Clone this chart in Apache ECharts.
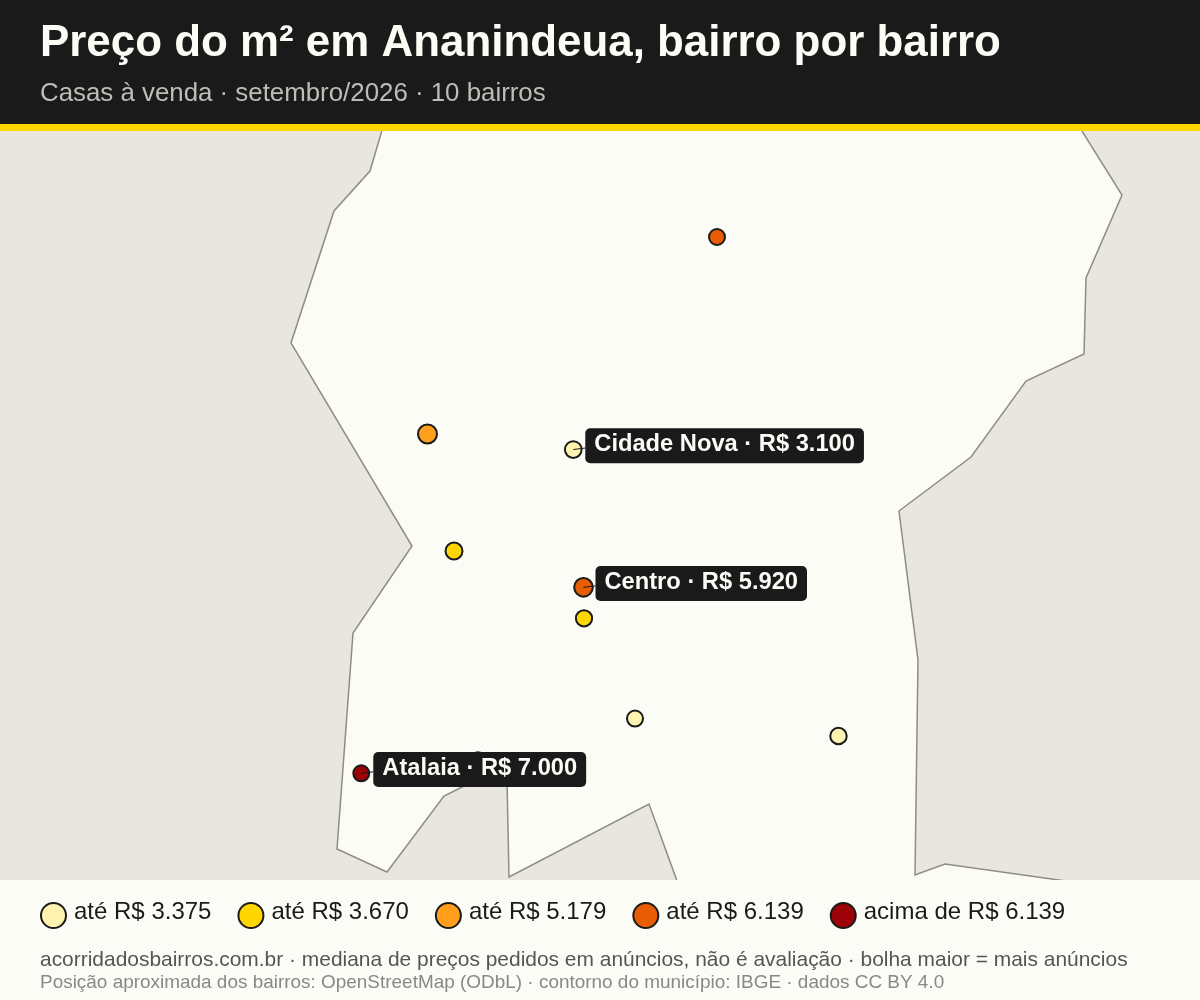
<!DOCTYPE html>
<html>
<head>
<meta charset="utf-8">
<title>Preço do m² em Ananindeua</title>
<style>
  html, body { margin: 0; padding: 0; background: #fcfcf7; }
  #chart { width: 1200px; height: 1000px; }
</style>
<script src="https://cdn.jsdelivr.net/npm/echarts@6/dist/echarts.min.js"></script>
</head>
<body>
<div id="chart"></div>
<script>
// contorno do municipio (lon, lat), passa um pouco fora do recorte em cima e embaixo
var contornoLon = [-48.443, -48.4475, -48.4565, -48.46725, -48.437, -48.45175, -48.45575, -48.44325, -48.429, -48.4245, -48.421, -48.41325, -48.41275, -48.37775, -48.369, -48.265, -48.265, -48.30375, -48.31125, -48.3105, -48.31525, -48.29725, -48.2835, -48.269, -48.2685, -48.2595, -48.2695, -48.2725];
var contornoLat = [-1.23475, -1.25, -1.26, -1.293, -1.34375, -1.3655, -1.4195, -1.42525, -1.40625, -1.404, -1.40225, -1.40225, -1.4265, -1.40825, -1.43225, -1.43225, -1.4287, -1.42325, -1.426, -1.37225, -1.335, -1.3215, -1.3025, -1.29575, -1.27675, -1.256, -1.24, -1.23525];

// bairros: so tres tem nome no mapa, os precos sem rotulo sao estimados pela cor
var bairroNome = [null, null, 'Cidade Nova', null, 'Centro', null, null, null, 'Atalaia', null];
var bairroLon = [-48.36075, -48.43313, -48.39668, -48.4265, -48.39413, -48.394, -48.38125, -48.33038, -48.44968, -48.4205];
var bairroLat = [-1.2665, -1.31575, -1.31963, -1.345, -1.35408, -1.36183, -1.38688, -1.39125, -1.40058, -1.39738];
var bairroPreco = [5700, 4500, 3100, 3500, 5920, 3600, 3200, 3300, 7000, 4800];
var bairroAnuncios = [64, 90, 70, 72, 87, 66, 64, 68, 64, 70];

var limites = [3375, 3670, 5179, 6139];
var classes = ['até R$ 3.375', 'até R$ 3.670', 'até R$ 5.179', 'até R$ 6.139', 'acima de R$ 6.139'];
var cores = ['#fff3b0', '#ffd600', '#ff9f1c', '#e85d04', '#9d0208'];

var FONTE = '"Liberation Sans", Arial, sans-serif';

function classeDe(preco) {
  for (var i = 0; i < limites.length; i++) {
    if (preco <= limites[i]) return i;
  }
  return limites.length;
}

function formataPreco(v) {
  return 'R$ ' + String(v).replace(/\B(?=(\d{3})+$)/g, '.');
}

var myChart = echarts.init(document.getElementById('chart'), null, { renderer: 'canvas' });

var series = [];

// municipio
series.push({
  type: 'custom',
  coordinateSystem: 'cartesian2d',
  clip: true,
  silent: true,
  z: 1,
  data: [[contornoLon[0], contornoLat[0]]],
  renderItem: function(params, api) {
    var pontos = contornoLon.map(function(lon, i) {
      return api.coord([lon, contornoLat[i]]);
    });
    return {
      type: 'polygon',
      shape: { points: pontos },
      style: { fill: '#fcfcf7', stroke: '#8f8c85', lineWidth: 1.5 }
    };
  }
});

// uma serie de bolhas por classe, assim a legenda sai pronta
classes.forEach(function(nome, c) {
  var dados = [];
  bairroPreco.forEach(function(preco, i) {
    if (classeDe(preco) === c) {
      dados.push([bairroLon[i], bairroLat[i], preco, bairroAnuncios[i]]);
    }
  });
  series.push({
    name: nome,
    type: 'scatter',
    z: 3,
    data: dados,
    symbol: 'circle',
    symbolSize: function(d) {
      return Math.sqrt(d[3]) * 2;
    },
    itemStyle: { color: cores[c], borderColor: '#1a1a1a', borderWidth: 2, opacity: 1 }
  });
});

// rotulos com a linha ate o centro da bolha
var rotulos = [];
bairroNome.forEach(function(nome, i) {
  if (nome) rotulos.push([bairroLon[i], bairroLat[i], i]);
});
series.push({
  type: 'custom',
  coordinateSystem: 'cartesian2d',
  clip: false,
  silent: true,
  z: 5,
  data: rotulos,
  renderItem: function(params, api) {
    var i = api.value(2);
    var p = api.coord([api.value(0), api.value(1)]);
    return {
      type: 'group',
      x: p[0],
      y: p[1],
      children: [
        {
          type: 'line',
          shape: { x1: 0, y1: 0, x2: 12, y2: -1.5 },
          style: { stroke: '#1a1a1a', lineWidth: 1 }
        },
        {
          type: 'text',
          x: 12,
          y: -21.3,
          style: {
            text: bairroNome[i] + ' · ' + formataPreco(bairroPreco[i]),
            fill: '#fcfcf7',
            font: 'bold 23.7px ' + FONTE,
            backgroundColor: '#1a1a1a',
            borderRadius: 5,
            padding: [4, 9, 7, 9]
          }
        }
      ]
    };
  }
});

var option = {
  backgroundColor: '#fcfcf7',
  animation: false,
  title: [
    {
      text: 'Preço do m² em Ananindeua, bairro por bairro',
      left: 35, top: 17,
      textStyle: { color: '#fcfcf7', fontFamily: FONTE, fontWeight: 'bold', fontSize: 43.9 }
    },
    {
      text: 'Casas à venda · setembro/2026 · 10 bairros',
      left: 35, top: 76,
      textStyle: { color: '#bdbdb8', fontFamily: FONTE, fontWeight: 'normal', fontSize: 25.85 }
    },
    {
      text: 'acorridadosbairros.com.br · mediana de preços pedidos em anúncios, não é avaliação · bolha maior = mais anúncios',
      left: 35, top: 944.5,
      textStyle: { color: '#555555', fontFamily: FONTE, fontWeight: 'normal', fontSize: 20.94 }
    },
    {
      text: 'Posição aproximada dos bairros: OpenStreetMap (ODbL) · contorno do município: IBGE · dados CC BY 4.0',
      left: 35, top: 968.5,
      textStyle: { color: '#888888', fontFamily: FONTE, fontWeight: 'normal', fontSize: 18.94 }
    }
  ],
  graphic: [
    { type: 'rect', shape: { x: 0, y: 0, width: 1200, height: 124 }, style: { fill: '#1a1a1a' }, silent: true },
    { type: 'rect', shape: { x: 0, y: 124, width: 1200, height: 7 }, style: { fill: '#ffd600' }, silent: true }
  ],
  grid: {
    left: 0, top: 131, width: 1200, height: 749,
    show: true,
    backgroundColor: '#e9e6e0',
    borderWidth: 0
  },
  xAxis: { type: 'value', min: -48.54, max: -48.24, show: false },
  yAxis: { type: 'value', min: -1.42725, max: -1.24, show: false },
  legend: {
    left: 40, top: 900,
    padding: 0,
    itemWidth: 25,
    itemHeight: 25,
    itemGap: 26,
    icon: 'circle',
    selectedMode: false,
    data: classes,
    itemStyle: { borderColor: '#1a1a1a', borderWidth: 2 },
    formatter: '{t|{name}}',
    textStyle: {
      rich: {
        t: { color: '#1a1a1a', fontFamily: FONTE, fontSize: 24, padding: [0, 0, 7, 3] }
      }
    }
  },
  series: series
};

myChart.setOption(option);
window.addEventListener('resize', function() {
  myChart.resize();
});
</script>
</body>
</html>
